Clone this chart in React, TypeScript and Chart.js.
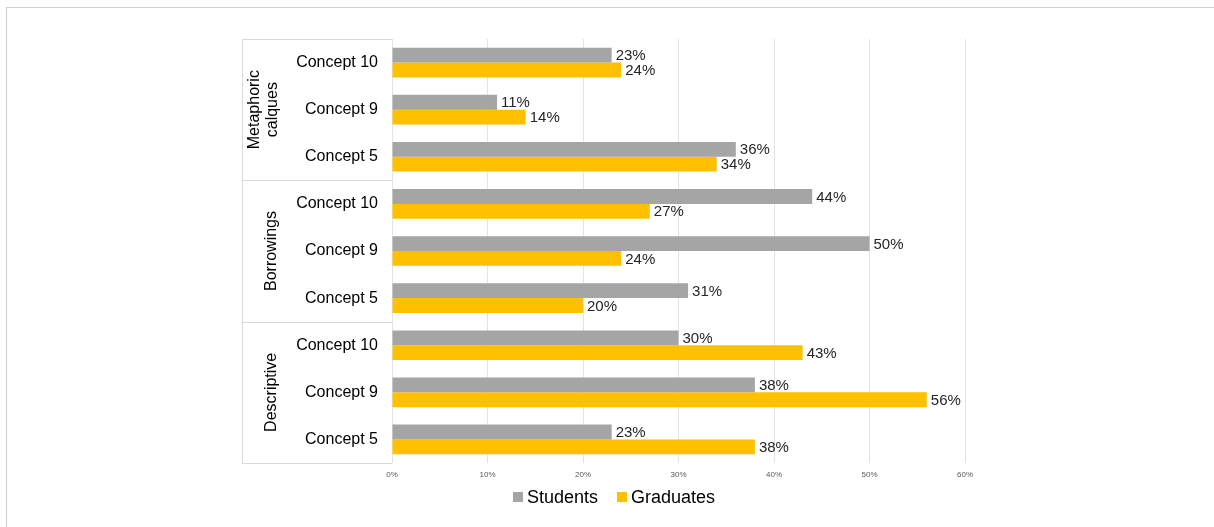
import React, { useEffect, useRef } from "react";
import { Chart, registerables } from "chart.js";

Chart.register(...registerables);

const groupLabels: string[][] = [["Metaphoric", "calques"], ["Borrowings"], ["Descriptive"]];
const concepts: string[] = ["Concept 10", "Concept 9", "Concept 5"];
const categories: string[] = [...concepts, ...concepts, ...concepts];
const seriesNames: string[] = ["Students", "Graduates"];
const students: number[] = [23, 11, 36, 44, 50, 31, 30, 38, 23];
const graduates: number[] = [24, 14, 34, 27, 24, 20, 43, 56, 38];
const xMin = 0;
const xMax = 60;
const xStep = 10;

const FONT = "'Liberation Sans', Arial, sans-serif";
const GRAY = "#a5a5a5";
const GOLD = "#ffc000";
const LINE = "#d9d9d9";

const extrasPlugin = {
  id: "extras",
  afterDraw(chart: any) {
    const ctx = chart.ctx as CanvasRenderingContext2D;
    const y = chart.scales.y;
    const area = chart.chartArea;
    const rowH = Math.abs(y.getPixelForValue(1) - y.getPixelForValue(0));
    const leftX = 242;
    ctx.save();
    // group frame lines
    ctx.strokeStyle = LINE;
    ctx.lineWidth = 1;
    const top0 = y.getPixelForValue(0) - rowH / 2;
    const bottom0 = y.getPixelForValue(categories.length - 1) + rowH / 2;
    ctx.beginPath();
    ctx.moveTo(leftX + 0.5, Math.round(top0));
    ctx.lineTo(leftX + 0.5, Math.round(bottom0));
    ctx.stroke();
    for (let g = 0; g <= groupLabels.length; g++) {
      const yy = Math.round(y.getPixelForValue(g * 3) - rowH / 2) + 0.5;
      ctx.beginPath();
      ctx.moveTo(leftX, yy);
      ctx.lineTo(area.left, yy);
      ctx.stroke();
    }
    // group labels
    ctx.fillStyle = "#000";
    ctx.font = `16px ${FONT}`;
    ctx.textAlign = "center";
    ctx.textBaseline = "middle";
    groupLabels.forEach((lines, g) => {
      const t = y.getPixelForValue(g * 3) - rowH / 2;
      const b = y.getPixelForValue(g * 3 + 2) + rowH / 2;
      const cy = (t + b) / 2;
      const cx = 272 - (lines.length - 1) * 17;
      ctx.save();
      ctx.translate(cx, cy);
      ctx.rotate(-Math.PI / 2);
      lines.forEach((ln, i) => {
        ctx.fillText(ln, 0, i * 18);
      });
      ctx.restore();
    });
    // data labels
    ctx.font = `15px ${FONT}`;
    ctx.fillStyle = "#262626";
    ctx.textAlign = "left";
    ctx.textBaseline = "middle";
    chart.data.datasets.forEach((ds: any, di: number) => {
      const meta = chart.getDatasetMeta(di);
      meta.data.forEach((bar: any, i: number) => {
        ctx.fillText(`${ds.data[i]}%`, bar.x + 4, bar.y + 1);
      });
    });
    // legend
    ctx.font = `18px ${FONT}`;
    ctx.textBaseline = "middle";
    const widths = chart.data.datasets.map((ds: any) => ctx.measureText(ds.label).width);
    const box = 10, gap = 4, itemGap = 19;
    const total = widths.reduce((a: number, w: number) => a + box + gap + w, 0) + itemGap * (widths.length - 1);
    let lx = 614 - total / 2;
    const ly = 497;
    chart.data.datasets.forEach((ds: any, di: number) => {
      ctx.fillStyle = ds.backgroundColor;
      ctx.fillRect(lx, ly - 5, box, box);
      ctx.fillStyle = "#000";
      ctx.fillText(ds.label, lx + box + gap, ly + 1);
      lx += box + gap + widths[di] + itemGap;
    });
    ctx.restore();
  },
};

export default function App() {
  const ref = useRef<HTMLCanvasElement | null>(null);
  useEffect(() => {
    if (!ref.current) return;
    const chart = new Chart(ref.current, {
      type: "bar",
      data: {
        labels: categories,
        datasets: [
          { label: seriesNames[0], data: students, backgroundColor: GRAY, categoryPercentage: 0.63, barPercentage: 1 },
          { label: seriesNames[1], data: graduates, backgroundColor: GOLD, categoryPercentage: 0.63, barPercentage: 1 },
        ],
      },
      options: {
        indexAxis: "y",
        animation: false,
        responsive: false,
        devicePixelRatio: 1,
        layout: { padding: { left: 242, right: 249, top: 39, bottom: 40 } },
        plugins: { legend: { display: false }, tooltip: { enabled: false } },
        scales: {
          x: {
            min: xMin,
            max: xMax,
            grid: { color: "#e3e3e3", drawTicks: false },
            border: { display: false },
            ticks: {
              stepSize: xStep,
              padding: 7,
              maxRotation: 0,
              color: "#595959",
              font: { size: 8, family: FONT },
              callback: (v: any) => `${v}%`,
            },
            afterFit: (s: any) => { s.height = 24; },
          },
          y: {
            grid: { display: false, drawTicks: false },
            border: { display: false },
            ticks: { padding: 14, color: "#000", font: { size: 16, family: FONT } },
            afterFit: (s: any) => { s.width = 150; },
          },
        },
      },
      plugins: [extrasPlugin],
    } as any);
    return () => chart.destroy();
  }, []);
  return (
    <div style={{ position: "absolute", left: 0, top: 0, width: 1214, height: 527, background: "#fff" }}>
      <div style={{ position: "absolute", left: 6, top: 7, width: 1208, height: 520, borderLeft: "1px solid #cdd3cd", borderTop: "1px solid #cdd3cd" }} />
      <canvas ref={ref} width={1214} height={527} style={{ position: "absolute", left: 0, top: 0, width: 1214, height: 527 }} />
    </div>
  );
}
